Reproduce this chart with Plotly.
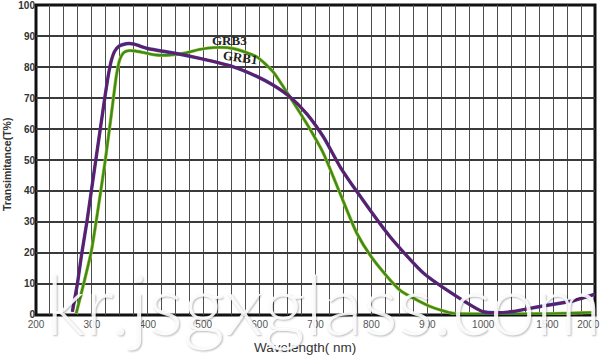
import numpy as np
import plotly.graph_objects as go

# ---- data ----
grb1_nm = [265, 274, 282, 291, 299, 307, 315, 323, 330, 335, 341, 348, 356, 366,
           376, 386, 400, 451, 493, 553, 595, 624, 654, 684, 714, 744, 774, 833,
           893, 953, 1000, 1100, 1235, 1444, 1773, 2080]
grb1_t = [1.0, 10.0, 20.0, 30.0, 40.0, 50.0, 60.0, 70.0, 78.0, 82.3, 85.2, 86.7,
          87.3, 87.6, 87.4, 86.8, 86.0, 84.4, 82.8, 80.1, 77.0, 74.2, 70.4, 65.0,
          57.5, 47.8, 39.8, 25.3, 13.5, 5.9, 1.0, 0.7, 1.1, 2.7, 4.3, 6.7]

grb3_nm = [272, 287, 299, 308, 317, 324, 335, 344, 350, 357, 366, 378, 395, 415,
           439, 463, 493, 517, 553, 595, 624, 654, 684, 714, 744, 774, 804, 851,
           905, 946, 1000, 1500, 2080]
grb3_t = [0.5, 11.3, 20.5, 30.6, 41.4, 50.0, 65.0, 77.5, 82.5, 84.7, 85.3, 85.2,
          84.6, 83.9, 83.9, 84.4, 85.7, 86.3, 86.0, 83.3, 78.5, 70.4, 61.8, 52.2,
          39.2, 26.3, 17.7, 8.0, 2.7, 0.5, 0.3, 0.4, 0.8]

x_tick_nm = [200, 300, 400, 500, 600, 700, 800, 900, 1000, 1500, 2000]
x_tick_text = ["200", "300", "400", "500", "600", "700", "800", "900", "1000", "1500", "2000"]
y_tick_vals = [0, 10, 20, 30, 40, 50, 60, 70, 80, 90, 100]

series_names = ["GRB1", "GRB3"]

# piecewise wavelength scale of the printed chart (compressed beyond 1000 nm)
scale_nm = [200, 1000, 1500, 2000, 2080]
scale_pos = [0, 8, 9.15, 9.88, 10]


def to_axis(nm):
    return np.interp(nm, scale_nm, scale_pos)


fig = go.Figure()

SM = 0.6
# GRB3 fringe on the grid axis (x); all other curve traces on the label axis (x2)
fig.add_trace(go.Scatter(x=to_axis(grb3_nm), y=grb3_t, mode="lines", xaxis="x",
                         line=dict(color="#b9c62a", width=3.4, shape="spline", smoothing=SM),
                         hoverinfo="skip", showlegend=False))
fig.add_trace(go.Scatter(x=to_axis(grb3_nm), y=grb3_t, mode="lines", name=series_names[1],
                         xaxis="x2",
                         line=dict(color="#3a8c22", width=2.3, shape="spline", smoothing=SM),
                         showlegend=False))
fig.add_trace(go.Scatter(x=to_axis(grb1_nm), y=grb1_t, mode="lines", xaxis="x2",
                         line=dict(color="#2f3cb5", width=3.4, shape="spline", smoothing=SM),
                         hoverinfo="skip", showlegend=False))
fig.add_trace(go.Scatter(x=to_axis(grb1_nm), y=grb1_t, mode="lines", name=series_names[0],
                         xaxis="x2",
                         line=dict(color="#6a1b58", width=2.2, shape="spline", smoothing=SM),
                         showlegend=False))

label_font = dict(family="Liberation Serif, Times New Roman", size=13, color="#222222")

fig.update_layout(
    width=600, height=356,
    margin=dict(l=36, r=5, t=5, b=41),
    paper_bgcolor="white", plot_bgcolor="white",
    showlegend=False,
    xaxis=dict(range=[0, 10], tickmode="linear", tick0=0, dtick=0.25,
               showticklabels=False, ticks="", showgrid=True,
               gridcolor="#4d4d4d", gridwidth=1.2, zeroline=False,
               showline=False, automargin=False, fixedrange=True),
    xaxis2=dict(range=[0, 10], overlaying="x", anchor="y", side="bottom",
                tickmode="array", tickvals=to_axis(x_tick_nm), ticktext=x_tick_text,
                showgrid=False, zeroline=False, showline=False, ticks="", ticklen=0,
                ticklabelstandoff=2, ticklabeloverflow="allow",
                tickfont=dict(family="Liberation Sans, Arial", size=10, color="#555555"),
                automargin=False),
    yaxis=dict(range=[-0.05, 100.05], tickmode="array", tickvals=y_tick_vals,
               showgrid=True, gridcolor="#3a3a3a", gridwidth=1.6,
               zeroline=False, showline=False, ticks="", ticklen=0,
               ticklabeloverflow="allow",
               tickfont=dict(family="Liberation Sans, Arial", size=10, color="#333333",
                             weight="bold"),
               automargin=False),
    shapes=[dict(type="rect", xref="paper", yref="paper", x0=0, x1=1, y0=0, y1=1,
                 line=dict(color="#111111", width=3), layer="below")],
    annotations=[
        dict(text="<b>GRB3</b>", x=to_axis(547), y=88.7, xref="x", yref="y",
             showarrow=False, font=label_font),
        dict(text="<b>GRB1</b>", x=to_axis(565), y=83.2, xref="x", yref="y",
             showarrow=False, textangle=8, font=label_font),
        dict(text="Transimitance(T%)", xref="paper", yref="paper", x=-0.052, y=0.487,
             xanchor="center", yanchor="middle", textangle=-90, showarrow=False,
             font=dict(family="Liberation Sans, Arial", size=10.5, color="#333333",
                       weight=600)),
        dict(text="Wavelength( nm)", xref="paper", yref="paper", x=0.482, y=-0.106,
             xanchor="center", yanchor="middle", showarrow=False,
             font=dict(family="Liberation Sans, Arial", size=13.5, color="#333333")),
        dict(text="kr.jsgxglass.com", xref="paper", yref="paper", x=0.515, y=0.04,
             xanchor="center", yanchor="middle", showarrow=False,
             font=dict(family="Lato", size=82, color="rgba(255,255,255,0.9)",
                       weight=300, shadow="1px 1px 2px rgba(0,0,0,0.3)")),
    ],
)

fig.write_html("out.html", config={"displayModeBar": False},
               post_script="document.body.style.margin='0';document.body.style.overflow='hidden';")
